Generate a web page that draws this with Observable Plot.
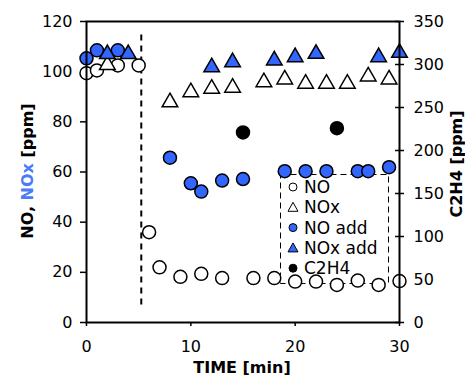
<!DOCTYPE html>
<html>
<head>
<meta charset="utf-8">
<script src="https://cdn.jsdelivr.net/npm/d3@7"></script>
<script src="https://cdn.jsdelivr.net/npm/@observablehq/plot@0.6"></script>
<style>
  html, body { margin: 0; padding: 0; background: white; }
  #chart { position: relative; width: 465px; height: 376px; overflow: hidden; }
</style>
</head>
<body>
<div id="chart"></div>
<script>
// ---- data (time in min, concentrations in ppm) ----
const noTime   = [0, 1, 3, 5, 6, 7, 9, 11, 13, 16, 18, 20, 22, 24, 26, 28, 30];
const noVal    = [99.4, 100.5, 102.5, 102.5, 36, 22, 18.2, 19.4, 17.7, 17.7, 17.7, 16.3, 16.3, 15, 16.7, 15, 16.5];

const noxTime  = [2, 8, 10, 12, 14, 17, 19, 21, 23, 25, 27, 29];
const noxVal   = [102.7, 87.8, 91.8, 93.2, 93.6, 95.8, 96.9, 95.2, 95.2, 95.2, 98.1, 96.9];

const noAddTime = [0, 1, 3, 8, 10, 11, 13, 15, 19, 21, 23, 26, 27, 29];
const noAddVal  = [105.3, 108.5, 108.5, 65.7, 55.5, 52.2, 56.6, 57.2, 60.3, 60.3, 60.3, 60.3, 60.3, 61.9];

const noxAddTime = [2, 4, 12, 14, 18, 20, 22, 28, 30];
const noxAddVal  = [107, 107, 101.8, 103.8, 104.5, 105.8, 107.1, 105.8, 107.5];

const c2h4Time = [15, 24];
const c2h4Val  = [221, 226];            // right axis units (ppm)

const injection = [{time: 5.25, from: 7, to: 116}];

const leftTicks   = [0, 20, 40, 60, 80, 100, 120];
const rightTicks  = [0, 50, 100, 150, 200, 250, 300, 350];
const xTicks      = [0, 10, 20, 30];
const leftMax = 120, rightMax = 350;

const legendLabels = ["NO", "NOx", "NO add", "NOx add", "C2H4"];

const BLUE = "#3366ff";
const toLeft = v => v * leftMax / rightMax;

const rows = (t, v) => t.map((d, i) => ({t: d, v: v[i]}));
const noData = rows(noTime, noVal);
const noxData = rows(noxTime, noxVal);
const noAddData = rows(noAddTime, noAddVal);
const noxAddData = rows(noxAddTime, noxAddVal);
const c2h4Data = rows(c2h4Time, c2h4Val.map(toLeft));

// legend drawn behind the points
function legend() {
  const g = d3.create("svg:g");
  g.append("rect").attr("x", 280.5).attr("y", 174.5).attr("width", 108).attr("height", 109)
    .attr("fill", "none").attr("stroke", "black").attr("stroke-width", 1).attr("stroke-dasharray", "6,4");
  const sym = [
    {type: "circle", fill: "white"},
    {type: "triangle", fill: "white"},
    {type: "circle", fill: BLUE},
    {type: "triangle", fill: BLUE},
    {type: "circle", fill: "black"}
  ];
  legendLabels.forEach((lab, i) => {
    const y = 187 + i * 20.3;
    const s = sym[i];
    if (s.type === "circle") {
      g.append("circle").attr("cx", 293).attr("cy", y).attr("r", 4)
        .attr("fill", s.fill).attr("stroke", "black").attr("stroke-width", 1);
    } else {
      g.append("path").attr("d", `M293,${y - 5}L298,${y + 4}L288,${y + 4}Z`)
        .attr("fill", s.fill).attr("stroke", "black").attr("stroke-width", 1);
    }
    g.append("text").attr("x", 304).attr("y", y).attr("dy", "0.36em").attr("text-anchor", "start")
      .attr("font-size", 17).attr("fill", "black").text(lab);
  });
  return g.node();
}

const plot = Plot.plot({
  width: 465,
  height: 376,
  marginLeft: 86,
  marginRight: 66,
  marginTop: 21,
  marginBottom: 54,
  style: {fontFamily: "DejaVu Sans, Verdana, sans-serif", fontSize: "16px", background: "white", color: "black"},
  x: {domain: [0, 30]},
  y: {domain: [0, leftMax]},
  marks: [
    legend,
    Plot.axisX({ticks: xTicks, tickSize: 4, tickPadding: 14, label: null, strokeWidth: 1.5}),
    Plot.axisY({ticks: leftTicks, tickSize: 6, tickPadding: 8, label: null, strokeWidth: 1.5}),
    Plot.axisY({anchor: "right", ticks: rightTicks.map(toLeft), tickFormat: d => Math.round(d * rightMax / leftMax),
                tickSize: 4, tickPadding: 10, label: null, strokeWidth: 1.5}),
    Plot.ruleY(rightTicks.map(toLeft), {x1: 29.62, x2: 30, stroke: "black", strokeWidth: 1.5}),
    Plot.ruleX(injection, {x: "time", y1: "from", y2: "to", stroke: "black", strokeWidth: 2, strokeDasharray: "6,5"}),
    Plot.dot(noData, {x: "t", y: "v", r: 6.5, fill: "white", stroke: "black", strokeWidth: 1.5}),
    Plot.dot(noxData, {x: "t", y: "v", r: 5.8, symbol: "triangle", fill: "white", stroke: "black", strokeWidth: 1.5}),
    Plot.dot(noAddData, {x: "t", y: "v", r: 6.5, fill: BLUE, stroke: "black", strokeWidth: 1.5}),
    Plot.dot(noxAddData, {x: "t", y: "v", r: 5.8, symbol: "triangle", fill: BLUE, stroke: "black", strokeWidth: 1.5}),
    Plot.dot(c2h4Data, {x: "t", y: "v", r: 6.5, fill: "black", stroke: "black"}),
    Plot.frame({stroke: "black", strokeWidth: 2})
  ]
});

document.getElementById("chart").appendChild(plot);

// axis titles
const svg = d3.select(plot);
const lt = svg.append("text").attr("transform", "translate(33,171) rotate(-90)")
  .attr("text-anchor", "middle").attr("font-weight", "bold").attr("font-size", 16).attr("fill", "black");
lt.append("tspan").text("NO, ");
lt.append("tspan").attr("fill", "#4a7cf7").text("NOx");
lt.append("tspan").text(" [ppm]");

svg.append("text").attr("transform", "translate(462,164) rotate(-90)")
  .attr("text-anchor", "middle").attr("font-weight", "bold").attr("font-size", 16).attr("fill", "black")
  .text("C2H4 [ppm]");

svg.append("text").attr("x", 242).attr("y", 373)
  .attr("text-anchor", "middle").attr("font-weight", "bold").attr("font-size", 16).attr("fill", "black")
  .text("TIME [min]");
</script>
</body>
</html>
